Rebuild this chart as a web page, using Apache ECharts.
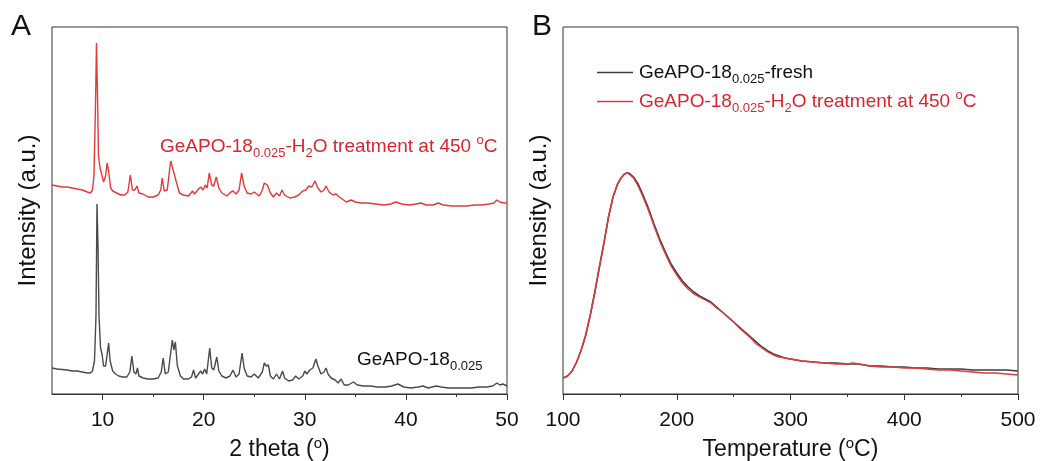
<!DOCTYPE html>
<html>
<head>
<meta charset="utf-8">
<script src="https://cdn.jsdelivr.net/npm/echarts@6/dist/echarts.min.js"></script>
<style>html,body{margin:0;padding:0;background:#fff}#c{width:1041px;height:461px}</style>
</head>
<body>
<div id="c"></div>
<script>
// ---------- Panel A: XRD patterns [2theta, intensity (arb.)] ----------
const xrdFresh = [
[5.0,28],[5.5,27],[6.0,26.5],[6.5,26],[7.0,25],[7.5,25],[8.0,24],[8.5,23],[8.8,23],[9.0,25],[9.2,35],[9.35,80],[9.45,192],[9.55,150],[9.65,80],[9.8,48],[9.95,42],[10.1,30],[10.3,30],[10.5,45],[10.6,53],[10.75,35],[11.0,25],[11.3,22],[11.6,20],[12.0,19],[12.4,19],[12.7,24],[12.9,40],[13.1,24],[13.3,22],[13.45,28],[13.6,20],[14.0,18],[14.5,17],[15.0,17],[15.5,18],[15.8,24],[16.0,38],[16.2,22],[16.5,24],[16.8,48],[16.9,56],[17.05,46],[17.2,54],[17.4,30],[17.7,20],[18.0,17],[18.5,17],[18.8,19],[19.0,26],[19.2,18],[19.5,22],[19.7,25],[19.9,22],[20.1,27],[20.3,22],[20.6,48],[20.8,28],[21.0,26],[21.3,39],[21.5,25],[21.8,20],[22.2,18],[22.6,20],[22.9,26],[23.2,19],[23.5,22],[23.8,43],[24.0,28],[24.3,20],[24.7,19],[25.0,22],[25.4,18],[25.8,24],[26.0,33],[26.2,30],[26.4,31],[26.6,20],[26.9,17],[27.2,22],[27.5,17],[27.8,25],[28.0,18],[28.4,15],[28.8,16],[29.1,20],[29.4,17],[29.8,20],[30.0,25],[30.2,22],[30.5,26],[30.8,28],[31.1,37],[31.3,30],[31.6,22],[31.9,24],[32.1,28],[32.3,22],[32.6,18],[33.0,16],[33.3,13],[33.6,17],[33.9,11],[34.3,11],[34.8,14],[35.2,11],[35.8,10],[36.5,10],[37.2,9],[38.0,9],[38.6,10],[39.2,12],[39.8,9],[40.5,8],[41.2,9],[41.7,10],[42.2,8],[43.0,10],[43.5,9],[44.2,8],[45.0,8],[45.8,8],[46.5,8],[47.2,9],[48.0,9],[48.6,10],[49.0,13],[49.3,11],[49.6,12],[50.0,10]
];
const xrdTreated = [
[5.0,211],[5.5,210],[6.0,209],[6.5,209],[7.0,208],[7.5,207],[8.0,206],[8.5,204],[8.8,203],[9.0,206],[9.15,220],[9.3,290],[9.4,353],[9.5,300],[9.6,240],[9.75,228],[9.9,222],[10.1,214],[10.3,220],[10.45,233],[10.6,225],[10.8,208],[11.0,205],[11.4,203],[11.8,201],[12.2,201],[12.5,204],[12.75,221],[12.95,206],[13.2,206],[13.4,210],[13.6,203],[14.0,202],[14.5,199],[15.0,199],[15.5,201],[15.75,206],[15.9,218],[16.1,205],[16.4,206],[16.65,228],[16.75,235],[16.9,229],[17.05,231],[17.3,214],[17.6,203],[18.0,201],[18.5,200],[18.9,205],[19.1,202],[19.4,206],[19.7,209],[19.95,206],[20.15,211],[20.35,208],[20.55,223],[20.8,211],[21.0,210],[21.25,219],[21.5,208],[21.8,203],[22.3,200],[22.7,204],[22.9,205],[23.2,202],[23.5,206],[23.75,223],[24.0,210],[24.3,203],[24.7,202],[25.0,204],[25.5,200],[25.8,206],[26.0,213],[26.3,211],[26.6,203],[26.9,199],[27.2,203],[27.5,200],[27.75,206],[28.0,201],[28.5,198],[29.0,199],[29.4,201],[29.8,205],[30.1,206],[30.4,210],[30.7,209],[31.0,215],[31.3,208],[31.6,204],[31.9,206],[32.1,210],[32.4,204],[32.8,201],[33.1,202],[33.4,199],[33.7,197],[34.1,194],[34.6,196],[35.0,194],[35.6,193],[36.2,193],[37.0,192],[37.8,191],[38.5,192],[39.0,194],[39.6,192],[40.3,191],[41.0,192],[41.5,193],[42.0,191],[42.7,191],[43.2,193],[43.7,191],[44.5,190],[45.3,190],[46.0,190],[46.8,191],[47.5,191],[48.2,192],[48.7,193],[49.0,196],[49.3,194],[49.7,193],[50.0,193]
];
const thetaTicks = [10, 20, 30, 40, 50];
const thetaMinorTicks = [15, 25, 35, 45];

// ---------- Panel B: TPD profiles [temperature (°C), intensity (arb.)] ----------
const tpdTreated = [
[100,16],[104,18],[108,23],[112,32],[116,44],[120,59],[124,79],[128,102],[132,127],[136,151],[140,177],[144,197],[148,210],[151,216],[154,220],[156,221],[158,220],[162,216],[166,208],[170,198],[175,184],[180,168],[185,153],[190,140],[195,128],[200,119],[205,111],[210,105],[215,100],[220,97],[225,94],[230,91],[235,86],[240,82],[245,77],[250,72],[255,66],[260,61],[265,56],[270,50],[275,46],[280,42],[285,39],[290,37],[295,36],[300,35],[310,33],[320,32],[330,31],[340,30],[350,30],[355,31],[360,30],[370,28],[380,27],[390,27],[400,26],[410,26],[420,25],[430,24],[440,24],[450,23],[460,22],[470,21],[480,21],[490,20],[500,19]
];
const tpdFresh = [
[100,16],[104,18],[108,23],[112,32],[116,44],[120,59],[124,79],[128,102],[132,127],[136,151],[140,177],[144,197],[148,210],[151,216],[154,220],[156,221],[158,221],[162,217],[166,210],[170,200],[175,186],[180,170],[185,155],[190,142],[195,130],[200,121],[205,113],[210,107],[215,102],[220,98],[225,95],[230,92],[235,87],[240,82],[245,77],[250,72],[255,67],[260,62],[265,57],[270,52],[275,47],[280,43],[285,40],[290,38],[295,36],[300,35],[310,33],[320,32],[330,31],[340,31],[350,30],[355,30],[360,30],[370,28],[380,28],[390,27],[400,27],[410,26],[420,26],[430,25],[440,25],[450,25],[460,24],[470,24],[480,24],[490,24],[500,23]
];
const tempTicks = [100, 200, 300, 400, 500];

const seriesNames = ['GeAPO-18-fresh', 'GeAPO-18-H2O treatment at 450 C'];

const FONT = '"Liberation Sans", Arial, Helvetica, sans-serif';
const RED = '#e23a3a';
const DARK = '#3c3c3c';

function richSet(color) {
  return {
    t: {fontSize: 19, fontFamily: FONT, color: color, fill: color, lineHeight: 26},
    s: {fontSize: 13, fontFamily: FONT, color: color, fill: color, lineHeight: 13, verticalAlign: 'bottom'},
    p: {fontSize: 13, fontFamily: FONT, color: color, fill: color, lineHeight: 9, verticalAlign: 'top'}
  };
}
const richK = richSet('#111');
const richR = richSet('#d8262c');
const richLegend = {
  kt: richK.t, ks: richK.s, kp: richK.p,
  rt: richR.t, rs: richR.s, rp: richR.p
};

const chart = echarts.init(document.getElementById('c'), null, {renderer: 'canvas'});

const axisNameRich = {
  n: {fontSize: 23, fontFamily: FONT, color: '#111', lineHeight: 28},
  p: {fontSize: 15, fontFamily: FONT, color: '#111', lineHeight: 11, verticalAlign: 'top'}
};

const option = {
  backgroundColor: '#fff',
  animation: false,
  grid: [
    {left: 52, right: 534, top: 27, bottom: 67, outerBoundsMode: 'none', containLabel: false, show: true, borderColor: '#333', borderWidth: 1, backgroundColor: 'transparent'},
    {left: 563, right: 23, top: 27, bottom: 67, outerBoundsMode: 'none', containLabel: false, show: true, borderColor: '#333', borderWidth: 1, backgroundColor: 'transparent'}
  ],
  xAxis: [
    {
      gridIndex: 0, type: 'value', min: 5, max: 50,
      axisLine: {show: true, lineStyle: {color: '#333', width: 1}},
      axisTick: {show: true, customValues: thetaTicks, length: 6, lineStyle: {color: '#333'}},
      axisLabel: {show: true, customValues: thetaTicks, fontSize: 21, fontFamily: FONT, color: '#111', margin: 16},
      splitLine: {show: false},
      name: '{n|2 theta (}{p|o}{n|)}', nameLocation: 'middle', nameGap: 41,
      nameTextStyle: {rich: axisNameRich}
    },
    {
      gridIndex: 0, type: 'value', min: 5, max: 50, position: 'bottom',
      axisLine: {show: false},
      axisTick: {show: true, customValues: thetaMinorTicks, length: 3, lineStyle: {color: '#333'}},
      axisLabel: {show: false},
      splitLine: {show: false}
    },
    {
      gridIndex: 1, type: 'value', min: 100, max: 500, interval: 100,
      axisLine: {show: true, lineStyle: {color: '#333', width: 1}},
      axisTick: {show: true, length: 6, lineStyle: {color: '#333'}},
      minorTick: {show: true, splitNumber: 2, length: 3, lineStyle: {color: '#333'}},
      axisLabel: {show: true, customValues: tempTicks, fontSize: 21, fontFamily: FONT, color: '#111', margin: 16},
      splitLine: {show: false},
      name: '{n|Temperature (}{p|o}{n|C)}', nameLocation: 'middle', nameGap: 41,
      nameTextStyle: {rich: axisNameRich}
    }
  ],
  yAxis: [
    {
      gridIndex: 0, type: 'value', min: 2, max: 369,
      axisLine: {show: false}, axisTick: {show: false}, axisLabel: {show: false}, splitLine: {show: false},
      name: 'Intensity (a.u.)', nameLocation: 'middle', nameGap: 12,
      nameTextStyle: {fontSize: 24, fontFamily: FONT, color: '#111'}
    },
    {
      gridIndex: 1, type: 'value', min: 0, max: 367,
      axisLine: {show: false}, axisTick: {show: false}, axisLabel: {show: false}, splitLine: {show: false},
      name: 'Intensity (a.u.)', nameLocation: 'middle', nameGap: 12,
      nameTextStyle: {fontSize: 24, fontFamily: FONT, color: '#111'}
    }
  ],
  legend: {
    show: true, orient: 'vertical', left: 592, top: 58,
    icon: 'rect', itemWidth: 36, itemHeight: 1.5, itemGap: 3,
    data: [seriesNames[0], seriesNames[1]],
    formatter: function (name) {
      if (name === seriesNames[0]) return '{kt|GeAPO-18}{ks|0.025}{kt|-fresh}';
      return '{rt|GeAPO-18}{rs|0.025}{rt|-H}{rs|2}{rt|O treatment at 450 }{rp|o}{rt|C}';
    },
    textStyle: {rich: richLegend, padding: [0, 0, 0, 1]}
  },
  graphic: [
    {type: 'text', left: 11, top: 12, style: {text: 'A', fontSize: 30, fontFamily: FONT, fill: '#111'}},
    {type: 'text', left: 532, top: 12, style: {text: 'B', fontSize: 30, fontFamily: FONT, fill: '#111'}},
    {type: 'text', left: 160, top: 134, style: {text: '{t|GeAPO-18}{s|0.025}{t|-H}{s|2}{t|O treatment at 450 }{p|o}{t|C}', rich: richR, fill: '#d8262c'}},
    {type: 'text', left: 357, top: 350, style: {text: '{t|GeAPO-18}{s|0.025}', rich: richK, fill: '#111'}}
  ],
  series: [
    {name: 'xrd-fresh', type: 'line', xAxisIndex: 0, yAxisIndex: 0, data: xrdFresh, symbol: 'none', lineStyle: {color: '#4a4a4a', width: 1.4}, itemStyle: {color: '#4a4a4a'}, z: 2},
    {name: 'xrd-treated', type: 'line', xAxisIndex: 0, yAxisIndex: 0, data: xrdTreated, symbol: 'none', lineStyle: {color: RED, width: 1.4}, itemStyle: {color: RED}, z: 2},
    {name: seriesNames[0], type: 'line', xAxisIndex: 2, yAxisIndex: 1, data: tpdFresh, symbol: 'none', lineStyle: {color: DARK, width: 1.6}, itemStyle: {color: DARK}, z: 2},
    {name: seriesNames[1], type: 'line', xAxisIndex: 2, yAxisIndex: 1, data: tpdTreated, symbol: 'none', lineStyle: {color: RED, width: 1.4}, itemStyle: {color: RED}, z: 3}
  ]
};
chart.setOption(option);
</script>
</body>
</html>
